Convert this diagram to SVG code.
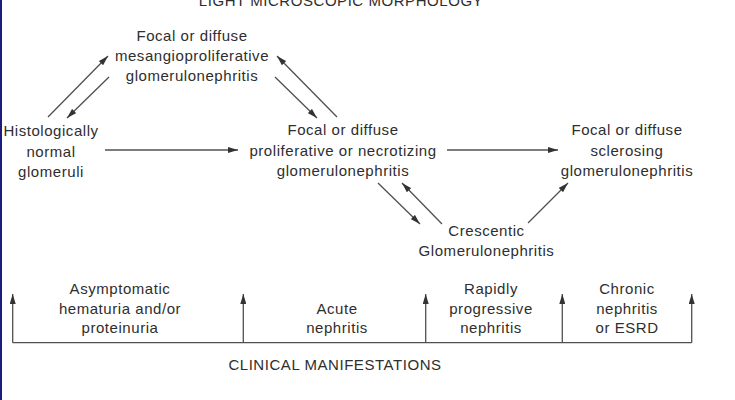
<svg xmlns="http://www.w3.org/2000/svg" width="735" height="400" viewBox="0 0 735 400">
<style>
text{font-family:"Liberation Sans",Arial,sans-serif;font-size:15px;letter-spacing:0.55px;fill:#2e2e2e;text-anchor:middle}
.c line{stroke:#505050;stroke-width:1.3;fill:none}
.a{marker-end:url(#ah)}
</style>
<defs>
<marker id="ah" viewBox="0 0 10 6" refX="10" refY="3" markerWidth="10" markerHeight="6" markerUnits="userSpaceOnUse" orient="auto">
<path d="M0,0 L10,3 L0,6 Z" fill="#333"/>
</marker>
</defs>
<rect width="735" height="400" fill="#fff"/>
<rect x="0" y="0" width="2" height="400" fill="#1c1c80"/>
<text x="341" y="5.5">LIGHT MICROSCOPIC MORPHOLOGY</text>
<g id="mesangio">
<text x="192" y="41">Focal or diffuse</text>
<text x="192" y="61">mesangioproliferative</text>
<text x="192" y="81">glomerulonephritis</text>
</g>
<g id="normal">
<text x="51" y="136">Histologically</text>
<text x="51" y="156.5">normal</text>
<text x="51" y="177">glomeruli</text>
</g>
<g id="proliferative">
<text x="343" y="135">Focal or diffuse</text>
<text x="343" y="155.5">proliferative or necrotizing</text>
<text x="343" y="176">glomerulonephritis</text>
</g>
<g id="sclerosing">
<text x="627" y="135">Focal or diffuse</text>
<text x="627" y="155.5">sclerosing</text>
<text x="627" y="176">glomerulonephritis</text>
</g>
<g id="crescentic">
<text x="486.5" y="236">Crescentic</text>
<text x="486.5" y="256">Glomerulonephritis</text>
</g>
<g id="connectors" class="c">
<line class="a" x1="48" y1="117" x2="108" y2="56"/>
<line class="a" x1="109" y1="77" x2="67" y2="118"/>
<line class="a" x1="275" y1="77" x2="317" y2="118"/>
<line class="a" x1="337" y1="117" x2="277" y2="56"/>
<line class="a" x1="105" y1="150" x2="238" y2="150"/>
<line class="a" x1="447" y1="150" x2="558" y2="150"/>
<line class="a" x1="378" y1="183" x2="420" y2="224"/>
<line class="a" x1="442" y1="224" x2="402" y2="183"/>
<line class="a" x1="528" y1="223" x2="568" y2="183"/>
<line x1="12.7" y1="342.7" x2="691.7" y2="342.7"/>
<line class="a" x1="12.7" y1="342.7" x2="12.7" y2="294"/>
<line class="a" x1="243.3" y1="342.7" x2="243.3" y2="294"/>
<line class="a" x1="425.7" y1="342.7" x2="425.7" y2="294"/>
<line class="a" x1="562.3" y1="342.7" x2="562.3" y2="294"/>
<line class="a" x1="691.7" y1="342.7" x2="691.7" y2="294"/>
</g>
<g id="asymptomatic">
<text x="120" y="294">Asymptomatic</text>
<text x="120" y="314">hematuria and/or</text>
<text x="120" y="333">proteinuria</text>
</g>
<g id="acute">
<text x="337" y="314">Acute</text>
<text x="337" y="333">nephritis</text>
</g>
<g id="rapid">
<text x="491" y="294">Rapidly</text>
<text x="491" y="314">progressive</text>
<text x="491" y="333">nephritis</text>
</g>
<g id="chronic">
<text x="627" y="294">Chronic</text>
<text x="627" y="314">nephritis</text>
<text x="627" y="333">or ESRD</text>
</g>
<g id="clinical">
<text x="335" y="370">CLINICAL MANIFESTATIONS</text>
</g>
</svg>
